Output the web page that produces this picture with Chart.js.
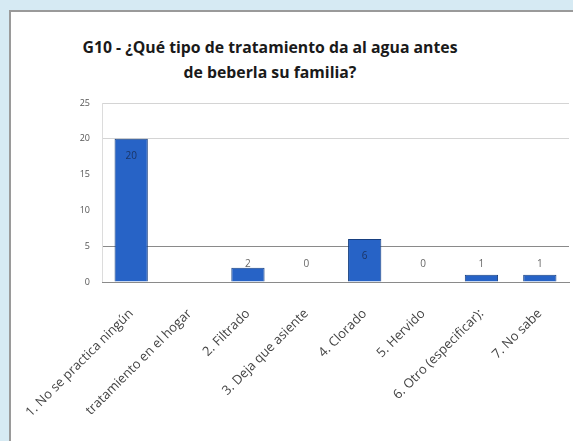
<!DOCTYPE html>
<html>
<head>
<meta charset="utf-8">
<script src="https://cdn.jsdelivr.net/npm/chart.js@4.4.0/dist/chart.umd.min.js"></script>
<style>
    body { margin:0; width:573px; height:441px; background:#d6eaf3; overflow:hidden; position:relative; font-family:"Open Sans", sans-serif; }
    #panel { position:absolute; left:9px; top:10px; width:580px; height:450px; background:#fff; border:2px solid #9a9a9a; box-sizing:border-box; }
    #title { position:absolute; left:20px; width:500px; top:35px; text-align:center; font-weight:700; font-size:15.8px; line-height:25px; color:#1a1a1a; }
    #wrap { position:absolute; left:0; top:0; width:573px; height:441px; }
</style>
</head>
<body>
<div id="panel"></div>
<div id="title">G10 - ¿Qué tipo de tratamiento da al agua antes<br>de beberla su familia?</div>
<div id="wrap"><canvas id="myChart" width="573" height="441"></canvas></div>
<script>
var categories = ['1. No se practica ningún', 'tratamiento en el hogar', '2. Filtrado', '3. Deja que asiente', '4. Clorado', '5. Hervido', '6. Otro (especificar):', '7. No sabe']
var counts = [20, null, 2, 0, 6, 0, 1, 1]
var y_ticks = [0, 5, 10, 15, 20, 25]

// etiquetas de datos como en excel
const barLabels = {
    id: 'barLabels',
    afterDatasetsDraw(chart) {
        let ctx = chart.ctx
        let meta = chart.getDatasetMeta(0)
        let base = chart.scales.y.getPixelForValue(0)
        ctx.save()
        ctx.font = '10px "Open Sans"'
        ctx.textAlign = 'center'
        ctx.textBaseline = 'middle'
        for (var i = 0; i < meta.data.length; i++) {
            let v = counts[i]
            if (v === null) continue
            let bar = meta.data[i]
            let y = Math.min(bar.y + 17, base - 18)
            ctx.fillStyle = (y > bar.y) ? '#1b3566' : '#666'
            ctx.fillText(String(v), bar.x, y)
        }
        ctx.restore()
    }
}

var ctx = document.getElementById('myChart').getContext('2d')
var myBar = new Chart(ctx, {
    type: 'bar',
    data: {
        labels: categories,
        datasets: [{
            data: counts,
            backgroundColor: '#2763c6',
            borderColor: '#173f80',
            borderWidth: 1,
            barPercentage: 0.57,
            categoryPercentage: 1
        }]
    },
    options: {
        responsive: false,
        animation: false,
        layout: { padding: { top: 103, right: 4, left: 0, bottom: 0 } },
        plugins: { legend: { display: false }, tooltip: { enabled: false }, title: { display: false } },
        scales: {
            y: {
                min: 0,
                max: 25,
                afterFit: function (scale) { scale.width = 102 },
                afterBuildTicks: function (scale) { scale.ticks = y_ticks.map(v => ({ value: v })) },
                ticks: { padding: 12, color: '#555', font: { size: 9, family: 'Open Sans' } },
                grid: {
                    drawTicks: false,
                    color: function (c) {
                        let v = c.tick.value
                        if (v == 5) return '#8a8a8a'
                        if (v == 20 || v == 25) return '#d4d4d4'
                        return 'rgba(0,0,0,0)'
                    }
                },
                border: { color: '#dcdcdc' }
            },
            x: {
                afterFit: function (scale) { scale.height = 159 },
                ticks: { minRotation: 45, maxRotation: 45, autoSkip: false, padding: 16, color: '#444', font: { size: 13, family: 'Open Sans' } },
                grid: { display: false },
                border: { color: '#8a8a8a' }
            }
        }
    },
    plugins: [barLabels]
})
</script>
</body>
</html>
